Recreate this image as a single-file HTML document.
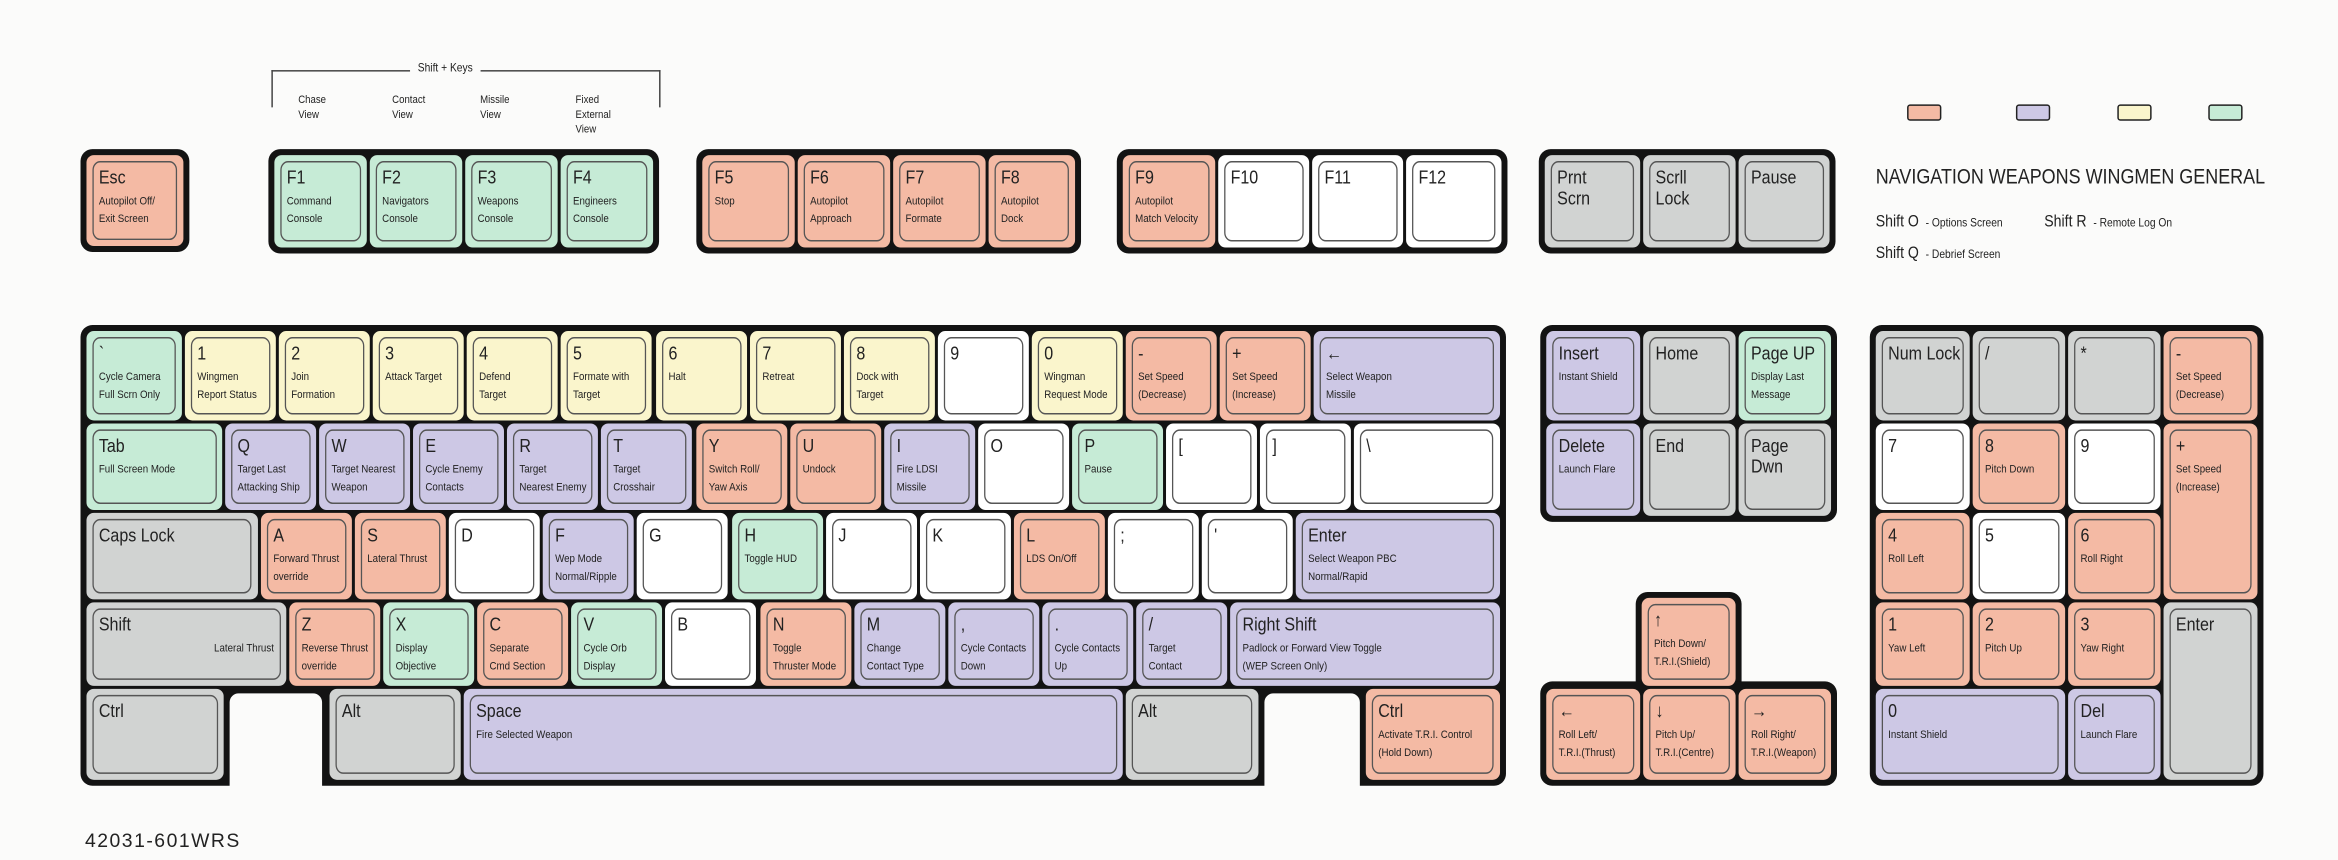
<!DOCTYPE html>
<html><head><meta charset="utf-8"><style>
html,body{margin:0;padding:0;background:#fbfbfa;width:2338px;height:860px;overflow:hidden}
#s{position:absolute;left:0;top:0;width:1568px;height:577px;transform:scale(1.49107);transform-origin:0 0;font-family:"Liberation Sans Narrow","Liberation Sans",sans-serif;color:#222}
.b{position:absolute;background:#131313;border-radius:8px}
.n{position:absolute;background:#fbfbfa;border-radius:6px 6px 0 0}
.k{position:absolute;border-radius:5px;box-sizing:border-box;padding:4px}
.i{border:1px solid #555;border-radius:6px;height:100%;width:116.3%;transform:scaleX(.86);transform-origin:0 0;box-sizing:border-box;padding:3px 4px;font-size:12.5px;line-height:14px;position:relative;overflow:hidden;white-space:nowrap}
.d{font-size:7.6px;line-height:12px;margin-top:3px}
.g{background:#c6ebd6}.y{background:#faf5cc}.p{background:#cdc8e5}.s{background:#f4baa4}.e{background:#d1d3d2}.w{background:#fff}
.t{position:absolute;font-size:7.5px;line-height:10px}
.sw{position:absolute;top:70px;width:21px;height:9px;border:1.5px solid #222;border-radius:2px}
.sc{transform:scaleX(.86);transform-origin:0 0;white-space:nowrap}
</style></head><body><div id="s">

<div style="position:absolute;left:182px;top:47px;width:259px;height:24px;border:1px solid #444;border-bottom:none"></div>
<div class="t sc" style="left:275px;top:41px;background:#fbfbfa;padding:0 6px;font-size:8px">Shift + Keys</div>
<div class="t sc" style="left:200px;top:62px">Chase<br>View</div>
<div class="t sc" style="left:263px;top:62px">Contact<br>View</div>
<div class="t sc" style="left:322px;top:62px">Missile<br>View</div>
<div class="t sc" style="left:386px;top:62px">Fixed<br>External<br>View</div>

<div class="sw s" style="left:1279px"></div>
<div class="sw p" style="left:1352px"></div>
<div class="sw y" style="left:1420px"></div>
<div class="sw g" style="left:1481px"></div>
<div class="sc" style="position:absolute;left:1258px;top:110px;font-size:14px">NAVIGATION WEAPONS WINGMEN GENERAL</div>
<div class="sc" style="position:absolute;left:1258px;top:143px;font-size:11px">Shift O <span style="font-size:8px">&nbsp;- Options Screen</span></div>
<div class="sc" style="position:absolute;left:1371px;top:143px;font-size:11px">Shift R <span style="font-size:8px">&nbsp;- Remote Log On</span></div>
<div class="sc" style="position:absolute;left:1258px;top:164px;font-size:11px">Shift Q <span style="font-size:8px">&nbsp;- Debrief Screen</span></div>

<div style="position:absolute;left:57px;top:556px;font-size:13px;letter-spacing:1px">42031-601WRS</div>

<!-- function row -->
<div class="b" style="left:54px;top:100px;width:73px;height:69px"></div>
<div class="k s" style="left:58px;top:104px;width:65px;height:61px"><div class="i">Esc<div class="d">Autopilot Off/<br>Exit Screen</div></div></div>

<div class="b" style="left:180px;top:100px;width:262px;height:70px"></div>
<div class="k g" style="left:184px;top:104px;width:62px;height:62px"><div class="i">F1<div class="d">Command<br>Console</div></div></div>
<div class="k g" style="left:248px;top:104px;width:62px;height:62px"><div class="i">F2<div class="d">Navigators<br>Console</div></div></div>
<div class="k g" style="left:312px;top:104px;width:62px;height:62px"><div class="i">F3<div class="d">Weapons<br>Console</div></div></div>
<div class="k g" style="left:376px;top:104px;width:62px;height:62px"><div class="i">F4<div class="d">Engineers<br>Console</div></div></div>

<div class="b" style="left:467px;top:100px;width:258px;height:70px"></div>
<div class="k s" style="left:471px;top:104px;width:62px;height:62px"><div class="i">F5<div class="d">Stop</div></div></div>
<div class="k s" style="left:535px;top:104px;width:62px;height:62px"><div class="i">F6<div class="d">Autopilot<br>Approach</div></div></div>
<div class="k s" style="left:599px;top:104px;width:62px;height:62px"><div class="i">F7<div class="d">Autopilot<br>Formate</div></div></div>
<div class="k s" style="left:663px;top:104px;width:58px;height:62px"><div class="i">F8<div class="d">Autopilot<br>Dock</div></div></div>

<div class="b" style="left:749px;top:100px;width:262px;height:70px"></div>
<div class="k s" style="left:753px;top:104px;width:62px;height:62px"><div class="i">F9<div class="d">Autopilot<br>Match Velocity</div></div></div>
<div class="k w" style="left:817px;top:104px;width:61px;height:62px"><div class="i">F10</div></div>
<div class="k w" style="left:880px;top:104px;width:61px;height:62px"><div class="i">F11</div></div>
<div class="k w" style="left:943px;top:104px;width:64px;height:62px"><div class="i">F12</div></div>

<div class="b" style="left:1032px;top:100px;width:199px;height:70px"></div>
<div class="k e" style="left:1036px;top:104px;width:64px;height:62px"><div class="i">Prnt<br>Scrn</div></div>
<div class="k e" style="left:1102px;top:104px;width:62px;height:62px"><div class="i">Scrll<br>Lock</div></div>
<div class="k e" style="left:1166px;top:104px;width:61px;height:62px"><div class="i">Pause</div></div>

<!-- main keyboard -->
<div class="b" style="left:54px;top:218px;width:956px;height:309px"></div>
<div class="n" style="left:154px;top:465px;width:62px;height:70px"></div>
<div class="n" style="left:848px;top:465px;width:64px;height:70px"></div>

<div class="k g" style="left:58px;top:222px;width:64px;height:60px"><div class="i">`<div class="d">Cycle Camera<br>Full Scrn Only</div></div></div>
<div class="k y" style="left:124px;top:222px;width:61px;height:60px"><div class="i">1<div class="d">Wingmen<br>Report Status</div></div></div>
<div class="k y" style="left:187.1px;top:222px;width:61px;height:60px"><div class="i">2<div class="d">Join<br>Formation</div></div></div>
<div class="k y" style="left:250.2px;top:222px;width:61px;height:60px"><div class="i">3<div class="d">Attack Target</div></div></div>
<div class="k y" style="left:313.3px;top:222px;width:61px;height:60px"><div class="i">4<div class="d">Defend<br>Target</div></div></div>
<div class="k y" style="left:376.4px;top:222px;width:61px;height:60px"><div class="i">5<div class="d">Formate with<br>Target</div></div></div>
<div class="k y" style="left:439.5px;top:222px;width:61px;height:60px"><div class="i">6<div class="d">Halt</div></div></div>
<div class="k y" style="left:502.6px;top:222px;width:61px;height:60px"><div class="i">7<div class="d">Retreat</div></div></div>
<div class="k y" style="left:565.7px;top:222px;width:61px;height:60px"><div class="i">8<div class="d">Dock with<br>Target</div></div></div>
<div class="k w" style="left:628.8px;top:222px;width:61px;height:60px"><div class="i">9</div></div>
<div class="k y" style="left:691.9px;top:222px;width:61px;height:60px"><div class="i">0<div class="d">Wingman<br>Request Mode</div></div></div>
<div class="k s" style="left:755px;top:222px;width:61px;height:60px"><div class="i">-<div class="d">Set Speed<br>(Decrease)</div></div></div>
<div class="k s" style="left:818.1px;top:222px;width:61px;height:60px"><div class="i">+<div class="d">Set Speed<br>(Increase)</div></div></div>
<div class="k p" style="left:881.2px;top:222px;width:124.8px;height:60px"><div class="i">&#8592;<div class="d">Select Weapon<br>Missile</div></div></div>

<div class="k g" style="left:58px;top:284px;width:91px;height:58px"><div class="i">Tab<div class="d">Full Screen Mode</div></div></div>
<div class="k p" style="left:151px;top:284px;width:61px;height:58px"><div class="i">Q<div class="d">Target Last<br>Attacking Ship</div></div></div>
<div class="k p" style="left:214.1px;top:284px;width:61px;height:58px"><div class="i">W<div class="d">Target Nearest<br>Weapon</div></div></div>
<div class="k p" style="left:277.2px;top:284px;width:61px;height:58px"><div class="i">E<div class="d">Cycle Enemy<br>Contacts</div></div></div>
<div class="k p" style="left:340.3px;top:284px;width:61px;height:58px"><div class="i">R<div class="d">Target<br>Nearest Enemy</div></div></div>
<div class="k p" style="left:403.4px;top:284px;width:61px;height:58px"><div class="i">T<div class="d">Target<br>Crosshair</div></div></div>
<div class="k s" style="left:466.5px;top:284px;width:61px;height:58px"><div class="i">Y<div class="d">Switch Roll/<br>Yaw Axis</div></div></div>
<div class="k s" style="left:529.6px;top:284px;width:61px;height:58px"><div class="i">U<div class="d">Undock</div></div></div>
<div class="k p" style="left:592.7px;top:284px;width:61px;height:58px"><div class="i">I<div class="d">Fire LDSI<br>Missile</div></div></div>
<div class="k w" style="left:655.8px;top:284px;width:61px;height:58px"><div class="i">O</div></div>
<div class="k g" style="left:718.9px;top:284px;width:61px;height:58px"><div class="i">P<div class="d">Pause</div></div></div>
<div class="k w" style="left:782px;top:284px;width:61px;height:58px"><div class="i">[</div></div>
<div class="k w" style="left:845.1px;top:284px;width:61px;height:58px"><div class="i">]</div></div>
<div class="k w" style="left:908.2px;top:284px;width:97.8px;height:58px"><div class="i">\</div></div>

<div class="k e" style="left:58px;top:344px;width:115px;height:58px"><div class="i">Caps Lock</div></div>
<div class="k s" style="left:175px;top:344px;width:61px;height:58px"><div class="i">A<div class="d">Forward Thrust<br>override</div></div></div>
<div class="k s" style="left:238.1px;top:344px;width:61px;height:58px"><div class="i">S<div class="d">Lateral Thrust</div></div></div>
<div class="k w" style="left:301.2px;top:344px;width:61px;height:58px"><div class="i">D</div></div>
<div class="k p" style="left:364.3px;top:344px;width:61px;height:58px"><div class="i">F<div class="d">Wep Mode<br>Normal/Ripple</div></div></div>
<div class="k w" style="left:427.4px;top:344px;width:61px;height:58px"><div class="i">G</div></div>
<div class="k g" style="left:490.5px;top:344px;width:61px;height:58px"><div class="i">H<div class="d">Toggle HUD</div></div></div>
<div class="k w" style="left:553.6px;top:344px;width:61px;height:58px"><div class="i">J</div></div>
<div class="k w" style="left:616.7px;top:344px;width:61px;height:58px"><div class="i">K</div></div>
<div class="k s" style="left:679.8px;top:344px;width:61px;height:58px"><div class="i">L<div class="d">LDS On/Off</div></div></div>
<div class="k w" style="left:742.9px;top:344px;width:61px;height:58px"><div class="i">;</div></div>
<div class="k w" style="left:806px;top:344px;width:61px;height:58px"><div class="i">'</div></div>
<div class="k p" style="left:869.1px;top:344px;width:136.9px;height:58px"><div class="i">Enter<div class="d">Select Weapon PBC<br>Normal/Rapid</div></div></div>

<div class="k e" style="left:58px;top:404px;width:134px;height:56px"><div class="i">Shift<div class="d" style="text-align:right">Lateral Thrust</div></div></div>
<div class="k s" style="left:194px;top:404px;width:61px;height:56px"><div class="i">Z<div class="d">Reverse Thrust<br>override</div></div></div>
<div class="k g" style="left:257.1px;top:404px;width:61px;height:56px"><div class="i">X<div class="d">Display<br>Objective</div></div></div>
<div class="k s" style="left:320.2px;top:404px;width:61px;height:56px"><div class="i">C<div class="d">Separate<br>Cmd Section</div></div></div>
<div class="k g" style="left:383.3px;top:404px;width:61px;height:56px"><div class="i">V<div class="d">Cycle Orb<br>Display</div></div></div>
<div class="k w" style="left:446.4px;top:404px;width:61px;height:56px"><div class="i">B</div></div>
<div class="k s" style="left:509.5px;top:404px;width:61px;height:56px"><div class="i">N<div class="d">Toggle<br>Thruster Mode</div></div></div>
<div class="k p" style="left:572.6px;top:404px;width:61px;height:56px"><div class="i">M<div class="d">Change<br>Contact Type</div></div></div>
<div class="k p" style="left:635.7px;top:404px;width:61px;height:56px"><div class="i">,<div class="d">Cycle Contacts<br>Down</div></div></div>
<div class="k p" style="left:698.8px;top:404px;width:61px;height:56px"><div class="i">.<div class="d">Cycle Contacts<br>Up</div></div></div>
<div class="k p" style="left:761.9px;top:404px;width:61px;height:56px"><div class="i">/<div class="d">Target<br>Contact</div></div></div>
<div class="k p" style="left:825px;top:404px;width:181px;height:56px"><div class="i">Right Shift<div class="d">Padlock or Forward View Toggle<br>(WEP Screen Only)</div></div></div>

<div class="k e" style="left:58px;top:462px;width:92px;height:61px"><div class="i">Ctrl</div></div>
<div class="k e" style="left:221px;top:462px;width:88px;height:61px"><div class="i">Alt</div></div>
<div class="k p" style="left:311px;top:462px;width:442px;height:61px"><div class="i">Space<div class="d">Fire Selected Weapon</div></div></div>
<div class="k e" style="left:755px;top:462px;width:89px;height:61px"><div class="i">Alt</div></div>
<div class="k s" style="left:916px;top:462px;width:90px;height:61px"><div class="i">Ctrl<div class="d">Activate T.R.I. Control<br>(Hold Down)</div></div></div>

<!-- nav cluster -->
<div class="b" style="left:1033px;top:218px;width:199px;height:132px"></div>
<div class="k p" style="left:1037px;top:222px;width:63px;height:60px"><div class="i">Insert<div class="d">Instant Shield</div></div></div>
<div class="k e" style="left:1102px;top:222px;width:62px;height:60px"><div class="i">Home</div></div>
<div class="k g" style="left:1166px;top:222px;width:62px;height:60px"><div class="i">Page UP<div class="d">Display Last<br>Message</div></div></div>
<div class="k p" style="left:1037px;top:284px;width:63px;height:62px"><div class="i">Delete<div class="d">Launch Flare</div></div></div>
<div class="k e" style="left:1102px;top:284px;width:62px;height:62px"><div class="i">End</div></div>
<div class="k e" style="left:1166px;top:284px;width:62px;height:62px"><div class="i">Page<br>Dwn</div></div>

<!-- arrows -->
<div class="b" style="left:1097px;top:397px;width:71px;height:80px"></div>
<div class="b" style="left:1033px;top:457px;width:199px;height:70px"></div>
<div class="k s" style="left:1101px;top:401px;width:63px;height:59px"><div class="i">&#8593;<div class="d">Pitch Down/<br>T.R.I.(Shield)</div></div></div>
<div class="k s" style="left:1037px;top:462px;width:63px;height:61px"><div class="i">&#8592;<div class="d">Roll Left/<br>T.R.I.(Thrust)</div></div></div>
<div class="k s" style="left:1102px;top:462px;width:62px;height:61px"><div class="i">&#8595;<div class="d">Pitch Up/<br>T.R.I.(Centre)</div></div></div>
<div class="k s" style="left:1166px;top:462px;width:62px;height:61px"><div class="i">&#8594;<div class="d">Roll Right/<br>T.R.I.(Weapon)</div></div></div>

<!-- numpad -->
<div class="b" style="left:1254px;top:218px;width:264px;height:309px"></div>
<div class="k e" style="left:1258px;top:222px;width:63px;height:60px"><div class="i">Num Lock</div></div>
<div class="k e" style="left:1323px;top:222px;width:62px;height:60px"><div class="i">/</div></div>
<div class="k e" style="left:1387px;top:222px;width:62px;height:60px"><div class="i">*</div></div>
<div class="k s" style="left:1451px;top:222px;width:63px;height:60px"><div class="i">-<div class="d">Set Speed<br>(Decrease)</div></div></div>
<div class="k w" style="left:1258px;top:284px;width:63px;height:58px"><div class="i">7</div></div>
<div class="k s" style="left:1323px;top:284px;width:62px;height:58px"><div class="i">8<div class="d">Pitch Down</div></div></div>
<div class="k w" style="left:1387px;top:284px;width:62px;height:58px"><div class="i">9</div></div>
<div class="k s" style="left:1451px;top:284px;width:63px;height:118px"><div class="i">+<div class="d">Set Speed<br>(Increase)</div></div></div>
<div class="k s" style="left:1258px;top:344px;width:63px;height:58px"><div class="i">4<div class="d">Roll Left</div></div></div>
<div class="k w" style="left:1323px;top:344px;width:62px;height:58px"><div class="i">5</div></div>
<div class="k s" style="left:1387px;top:344px;width:62px;height:58px"><div class="i">6<div class="d">Roll Right</div></div></div>
<div class="k s" style="left:1258px;top:404px;width:63px;height:56px"><div class="i">1<div class="d">Yaw Left</div></div></div>
<div class="k s" style="left:1323px;top:404px;width:62px;height:56px"><div class="i">2<div class="d">Pitch Up</div></div></div>
<div class="k s" style="left:1387px;top:404px;width:62px;height:56px"><div class="i">3<div class="d">Yaw Right</div></div></div>
<div class="k e" style="left:1451px;top:404px;width:63px;height:119px"><div class="i">Enter</div></div>
<div class="k p" style="left:1258px;top:462px;width:127px;height:61px"><div class="i">0<div class="d">Instant Shield</div></div></div>
<div class="k p" style="left:1387px;top:462px;width:62px;height:61px"><div class="i">Del<div class="d">Launch Flare</div></div></div>

</div></body></html>
